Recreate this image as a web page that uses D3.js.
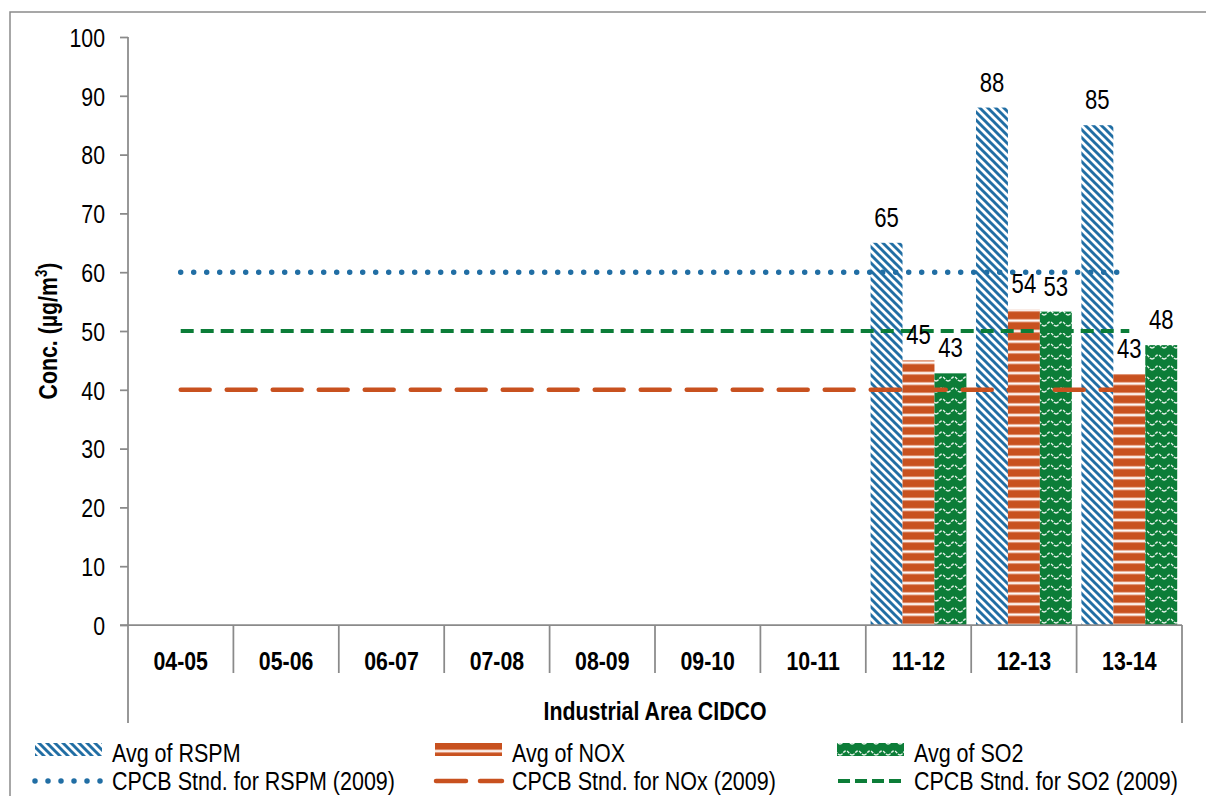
<!DOCTYPE html>
<html>
<head>
<meta charset="utf-8">
<script src="https://cdn.jsdelivr.net/npm/d3@7"></script>
<style>
  html, body { margin: 0; padding: 0; background: #fff; }
  svg { display: block; }
  text { font-family: "Liberation Sans Narrow", "Arial Narrow", "Liberation Sans", Arial, sans-serif; fill: #000; }
</style>
</head>
<body>
<svg id="chart" width="1206" height="796"></svg>
<script>
// ---- data ----
const categories = ["04-05", "05-06", "06-07", "07-08", "08-09", "09-10", "10-11", "11-12", "12-13", "13-14"];
const rspmAvg = [null, null, null, null, null, null, null, 65, 88, 85];
const noxAvg  = [null, null, null, null, null, null, null, 45, 53.7, 42.7];
const so2Avg  = [null, null, null, null, null, null, null, 42.8, 53.3, 47.6];
const rspmStd = [60, 60, 60, 60, 60, 60, 60, 60, 60, 60];
const noxStd  = [40, 40, 40, 40, 40, 40, 40, 40, 40, 40];
const so2Std  = [50, 50, 50, 50, 50, 50, 50, 50, 50, 50];
const yTicks = [0, 10, 20, 30, 40, 50, 60, 70, 80, 90, 100];
const barSeries = ["Avg of RSPM", "Avg of NOX", "Avg of SO2"];
const lineSeries = ["CPCB Stnd. for RSPM (2009)", "CPCB Stnd. for NOx (2009)", "CPCB Stnd. for SO2 (2009)"];
const xGroupTitle = "Industrial Area CIDCO";

// ---- style ----
const BLUE = "#216ea4", ORANGE = "#c8511f", GREEN = "#0c7d38", AXIS = "#8a8a8a";
const FS = 26;
const NARROW = 0.82;
const LEG_FS = 25, LEG_NARROW = 0.86;

const svg = d3.select("#chart");
const plot = { left: 128, right: 1182, top: 37, bottom: 625 };

// patterns
const defs = svg.append("defs");
const pR = defs.append("pattern").attr("id", "patR").attr("patternUnits", "userSpaceOnUse")
  .attr("width", 8).attr("height", 8);
pR.append("rect").attr("width", 8).attr("height", 8).attr("fill", "#fff");
pR.append("path").attr("d", "M-2,-2 L10,10 M-6,2 L2,10 M6,-2 L14,6")
  .attr("stroke", BLUE).attr("stroke-width", 2.9);
const pN = defs.append("pattern").attr("id", "patN").attr("patternUnits", "userSpaceOnUse")
  .attr("width", 10).attr("height", 10.5);
pN.append("rect").attr("width", 10).attr("height", 10.5).attr("fill", ORANGE);
pN.append("rect").attr("y", 4).attr("width", 10).attr("height", 3.2).attr("fill", "#eeb39a");
pN.append("rect").attr("y", 4.8).attr("width", 10).attr("height", 1.6).attr("fill", "#fff");
const pS = defs.append("pattern").attr("id", "patS").attr("patternUnits", "userSpaceOnUse")
  .attr("width", 12).attr("height", 11);
pS.append("rect").attr("width", 12).attr("height", 11).attr("fill", GREEN);
pS.append("path").attr("d", "M0,7 C3,7 3,3 6,3 C9,3 9,7 12,7")
  .attr("fill", "none").attr("stroke", "#e6f3ea").attr("stroke-width", 1.4)
  .attr("stroke-dasharray", "3 1.2");

const fills = ["url(#patR)", "url(#patN)", "url(#patS)"];
const lineColors = [BLUE, ORANGE, GREEN];

// outer chart border
svg.append("rect").attr("x", 10).attr("y", 12).attr("width", 1240).attr("height", 840)
  .attr("fill", "none").attr("stroke", AXIS).attr("stroke-width", 1.5);

// scales
const x0 = d3.scaleBand().domain(categories).range([plot.left, plot.right]).padding(0);
const bw = x0.bandwidth();
const barW = bw / 3.3;
const x1 = d3.scaleBand().domain(barSeries).range([barW * 0.15, bw - barW * 0.15]).padding(0);
const y = d3.scaleLinear().domain([0, 100]).range([plot.bottom, plot.top]);

// y axis
const yAxis = svg.append("g").attr("transform", `translate(${plot.left},0)`)
  .call(d3.axisLeft(y).tickValues(yTicks).tickSize(8).tickSizeOuter(0).tickPadding(15));
yAxis.select(".domain").remove();
yAxis.selectAll(".tick line").attr("stroke", AXIS).attr("stroke-width", 1.75);
yAxis.selectAll(".tick text").attr("font-size", FS).attr("font-family", null).attr("dy", "0.36em");
svg.append("line").attr("x1", plot.left).attr("x2", plot.left)
  .attr("y1", y(100)).attr("y2", 723).attr("stroke", AXIS).attr("stroke-width", 1.75);

// bars
const allBars = [rspmAvg, noxAvg, so2Avg];
barSeries.forEach((s, si) => {
  const g = svg.append("g");
  const data = categories.map((c, i) => ({ c, v: allBars[si][i] })).filter(d => d.v != null);
  g.selectAll("rect").data(data).join("rect")
    .attr("x", d => x0(d.c) + x1(s))
    .attr("y", d => y(d.v))
    .attr("width", x1.bandwidth())
    .attr("height", d => y(0) - y(d.v))
    .attr("fill", fills[si]);
});

// x axis
const xAxis = svg.append("g").attr("transform", `translate(0,${plot.bottom})`)
  .call(d3.axisBottom(x0).tickSize(0).tickPadding(0));
xAxis.select(".domain").remove();
xAxis.selectAll(".tick text").attr("font-size", FS).attr("font-weight", "bold")
  .attr("font-family", null).attr("dy", null).attr("y", 45);
svg.append("line").attr("x1", plot.left - 8).attr("x2", plot.right)
  .attr("y1", plot.bottom).attr("y2", plot.bottom).attr("stroke", AXIS).attr("stroke-width", 1.75);
// category separators
svg.append("g").selectAll("line").data(categories.slice(1)).join("line")
  .attr("x1", d => x0(d)).attr("x2", d => x0(d))
  .attr("y1", plot.bottom).attr("y2", 673)
  .attr("stroke", AXIS).attr("stroke-width", 1.75);
svg.append("line").attr("x1", plot.right).attr("x2", plot.right)
  .attr("y1", plot.bottom).attr("y2", 723).attr("stroke", AXIS).attr("stroke-width", 1.75);

// standard lines
const allStd = [rspmStd, noxStd, so2Std];
const dashes = [
  { w: 5.5, dash: "0 13", cap: "round" },
  { w: 4.5, dash: "29 17", cap: "round" },
  { w: 4, dash: "13 7", cap: "butt" }
];
const line = d3.line().x(d => x0(d.c) + bw / 2).y(d => y(d.v));
allStd.forEach((arr, si) => {
  const data = categories.map((c, i) => ({ c, v: arr[i] }));
  svg.append("path").datum(data).attr("d", line)
    .attr("fill", "none").attr("stroke", lineColors[si])
    .attr("stroke-width", dashes[si].w).attr("stroke-dasharray", dashes[si].dash)
    .attr("stroke-linecap", dashes[si].cap);
});

// data labels
const fmt = d3.format(".0f");
barSeries.forEach((s, si) => {
  const data = categories.map((c, i) => ({ c, v: allBars[si][i] })).filter(d => d.v != null);
  svg.append("g").selectAll("text").data(data).join("text")
    .attr("x", d => x0(d.c) + x1(s) + x1.bandwidth() / 2)
    .attr("y", d => y(d.v) - 16)
    .attr("text-anchor", "middle").attr("font-size", FS + 1)
    .text(d => fmt(d.v));
});

// axis titles
svg.append("text").attr("x", (plot.left + plot.right) / 2).attr("y", 720)
  .attr("text-anchor", "middle").attr("font-size", FS).attr("font-weight", "bold")
  .text(xGroupTitle);
const yt = svg.append("text").attr("transform", `translate(57,${(plot.top + plot.bottom) / 2}) rotate(-90)`)
  .attr("text-anchor", "middle").attr("font-size", FS).attr("font-weight", "bold");
yt.append("tspan").text("Conc. (µg/m");
yt.append("tspan").attr("font-size", FS * 0.62).attr("dy", -10).text("3");
yt.append("tspan").attr("dy", 10).text(")");

// legend
const legX = [35, 435, 837];
barSeries.forEach((s, i) => {
  svg.append("rect").attr("x", legX[i]).attr("y", 743).attr("width", 67).attr("height", 13)
    .attr("fill", fills[i]);
  svg.append("text").attr("class", "leg").attr("x", legX[i] + 77).attr("y", 762)
    .attr("font-size", LEG_FS).text(s);
});
lineSeries.forEach((s, i) => {
  svg.append("line").attr("x1", legX[i] + (i === 0 ? 0 : 1)).attr("x2", legX[i] + 67)
    .attr("y1", 781).attr("y2", 781)
    .attr("stroke", lineColors[i]).attr("stroke-width", dashes[i].w)
    .attr("stroke-dasharray", i === 1 ? "30 14" : (i === 2 ? "12 5" : dashes[i].dash))
    .attr("stroke-linecap", dashes[i].cap);
  svg.append("text").attr("class", "leg").attr("x", legX[i] + 77).attr("y", 790)
    .attr("font-size", LEG_FS).text(s);
});

// condense every text horizontally (narrow face is not installed)
svg.selectAll("text").each(function () {
  const el = d3.select(this);
  const k = el.classed("leg") ? LEG_NARROW : NARROW;
  const x = +(el.attr("x") || 0);
  const t = el.attr("transform") || "";
  el.attr("transform", `${t} translate(${x},0) scale(${k},1) translate(${-x},0)`);
});
</script>
</body>
</html>
